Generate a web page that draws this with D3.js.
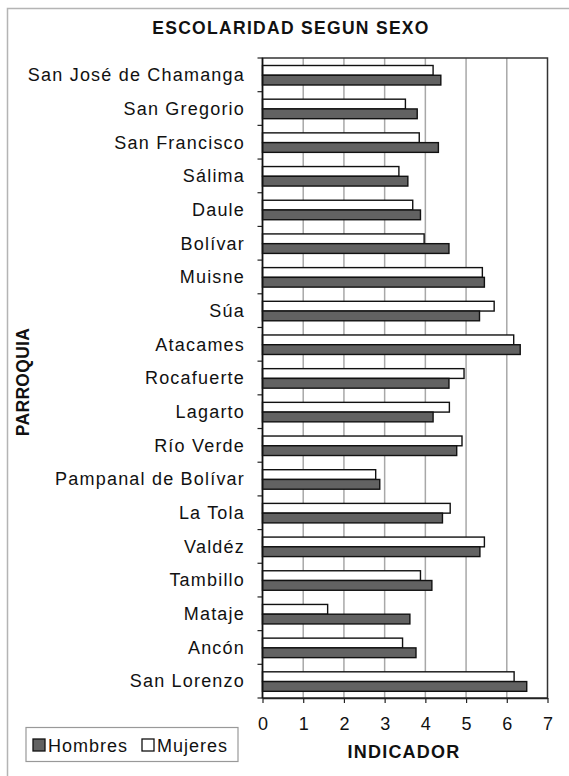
<!DOCTYPE html>
<html>
<head>
<meta charset="utf-8">
<script src="https://cdn.jsdelivr.net/npm/d3@7"></script>
<style>
  body { margin: 0; background: #fff; }
  svg { display: block; font-family: Arial, "Liberation Sans", sans-serif; }
</style>
</head>
<body>
<div id="chart"></div>
<script>
/* escolaridad segun sexo */
var parroquias = ["San José de Chamanga", "San Gregorio", "San Francisco", "Sálima", "Daule",
  "Bolívar", "Muisne", "Súa", "Atacames", "Rocafuerte", "Lagarto", "Río Verde",
  "Pampanal de Bolívar", "La Tola", "Valdéz", "Tambillo", "Mataje", "Ancón", "San Lorenzo"];
var hombres = [4.38, 3.80, 4.32, 3.57, 3.88, 4.58, 5.45, 5.33, 6.33, 4.58, 4.19, 4.77,
  2.88, 4.42, 5.34, 4.16, 3.62, 3.77, 6.49];
var mujeres = [4.19, 3.51, 3.85, 3.35, 3.69, 3.97, 5.40, 5.69, 6.17, 4.95, 4.59, 4.90,
  2.78, 4.61, 5.45, 3.88, 1.60, 3.44, 6.18];
var series = ["Mujeres", "Hombres"];
var xTicks = [0, 1, 2, 3, 4, 5, 6, 7];

var width = 569, height = 776;
var plot = { left: 262.5, right: 547.5, top: 58, bottom: 698 };

var svg = d3.select("#chart").append("svg")
  .attr("width", width)
  .attr("height", height);

// outer frame of the original picture
svg.append("rect")
  .attr("x", 7.5).attr("y", 8.5)
  .attr("width", 580).attr("height", 800)
  .attr("fill", "none")
  .attr("stroke", "#b4b4b4")
  .attr("stroke-width", 1.5);

var x = d3.scaleLinear().domain([0, 7]).range([plot.left, plot.right]);
var y = d3.scaleBand().domain(parroquias).range([plot.top, plot.bottom]);
var ySub = d3.scaleBand().domain(series).range([7.5, 27]);

var rows = parroquias.map(function(p, i) {
  return { name: p, Hombres: hombres[i], Mujeres: mujeres[i] };
});

// gridlines
svg.append("g").selectAll("line")
  .data(xTicks.slice(1, -1))
  .join("line")
  .attr("x1", d => x(d)).attr("x2", d => x(d))
  .attr("y1", plot.top).attr("y2", plot.bottom)
  .attr("stroke", "#a8a8a8")
  .attr("stroke-width", 1.5);

// bars
var group = svg.append("g").selectAll("g")
  .data(rows)
  .join("g")
  .attr("transform", d => "translate(0," + y(d.name) + ")");

group.selectAll("rect")
  .data(d => series.map(s => ({ key: s, value: d[s] })))
  .join("rect")
  .attr("x", x(0))
  .attr("y", d => ySub(d.key))
  .attr("width", d => x(d.value) - x(0))
  .attr("height", ySub.bandwidth())
  .attr("fill", d => d.key === "Hombres" ? "#626262" : "#fff")
  .attr("stroke", "#111")
  .attr("stroke-width", 1.4);

// plot frame
svg.append("rect")
  .attr("x", plot.left).attr("y", plot.top)
  .attr("width", plot.right - plot.left)
  .attr("height", plot.bottom - plot.top)
  .attr("fill", "none")
  .attr("stroke", "#333")
  .attr("stroke-width", 1.5);

// x axis
var xAxis = svg.append("g")
  .attr("transform", "translate(0," + plot.bottom + ")")
  .call(d3.axisBottom(x).tickValues(xTicks).tickFormat(d3.format("d"))
    .tickSize(5).tickPadding(14).tickSizeOuter(0));
xAxis.select(".domain").attr("stroke", "#222").attr("stroke-width", 1.5);
xAxis.selectAll(".tick line").attr("stroke", "#222").attr("stroke-width", 1.2);
xAxis.selectAll(".tick text")
  .attr("font-size", 18)
  .attr("font-family", "Arial, 'Liberation Sans', sans-serif")
  .attr("fill", "#111");

// y axis: ticks between categories, labels at band centers
var yBounds = parroquias.map(p => y(p)).concat([plot.bottom]);
svg.append("g").selectAll("line")
  .data(yBounds)
  .join("line")
  .attr("x1", plot.left - 5).attr("x2", plot.left)
  .attr("y1", d => d).attr("y2", d => d)
  .attr("stroke", "#222")
  .attr("stroke-width", 1.2);
svg.append("line")
  .attr("x1", plot.left).attr("x2", plot.left)
  .attr("y1", plot.top).attr("y2", plot.bottom)
  .attr("stroke", "#111")
  .attr("stroke-width", 1.5);

svg.append("g").selectAll("text")
  .data(parroquias)
  .join("text")
  .attr("x", 245)
  .attr("y", d => y(d) + y.bandwidth() / 2)
  .attr("dy", "0.35em")
  .attr("text-anchor", "end")
  .attr("font-size", 18)
  .attr("letter-spacing", 1.2)
  .attr("fill", "#111")
  .text(d => d);

// titles
svg.append("text")
  .attr("x", 291).attr("y", 34)
  .attr("text-anchor", "middle")
  .attr("font-size", 17.5)
  .attr("font-weight", "bold")
  .attr("letter-spacing", 1.3)
  .attr("fill", "#111")
  .text("ESCOLARIDAD SEGUN SEXO");

svg.append("text")
  .attr("x", 404).attr("y", 758)
  .attr("text-anchor", "middle")
  .attr("font-size", 18)
  .attr("font-weight", "bold")
  .attr("letter-spacing", 1.2)
  .attr("fill", "#111")
  .text("INDICADOR");

svg.append("text")
  .attr("transform", "translate(29,382) rotate(-90)")
  .attr("text-anchor", "middle")
  .attr("font-size", 17.5)
  .attr("font-weight", "bold")
  .attr("letter-spacing", 0.3)
  .attr("fill", "#111")
  .text("PARROQUIA");

// legend
var legend = svg.append("g");
legend.append("rect")
  .attr("x", 26).attr("y", 727.5)
  .attr("width", 212).attr("height", 34)
  .attr("fill", "#fff")
  .attr("stroke", "#999")
  .attr("stroke-width", 1.2);

var legendItems = [
  { key: "Hombres", x: 33, fill: "#626262" },
  { key: "Mujeres", x: 142, fill: "#fff" }
];
var li = legend.selectAll("g.item")
  .data(legendItems)
  .join("g")
  .attr("class", "item")
  .attr("transform", d => "translate(" + d.x + ",739)");
li.append("rect")
  .attr("width", 12).attr("height", 12)
  .attr("fill", d => d.fill)
  .attr("stroke", "#111")
  .attr("stroke-width", 1.3);
li.append("text")
  .attr("x", 15).attr("y", 12.5)
  .attr("font-size", 18)
  .attr("letter-spacing", 1)
  .attr("fill", "#111")
  .text(d => d.key);
</script>
</body>
</html>
